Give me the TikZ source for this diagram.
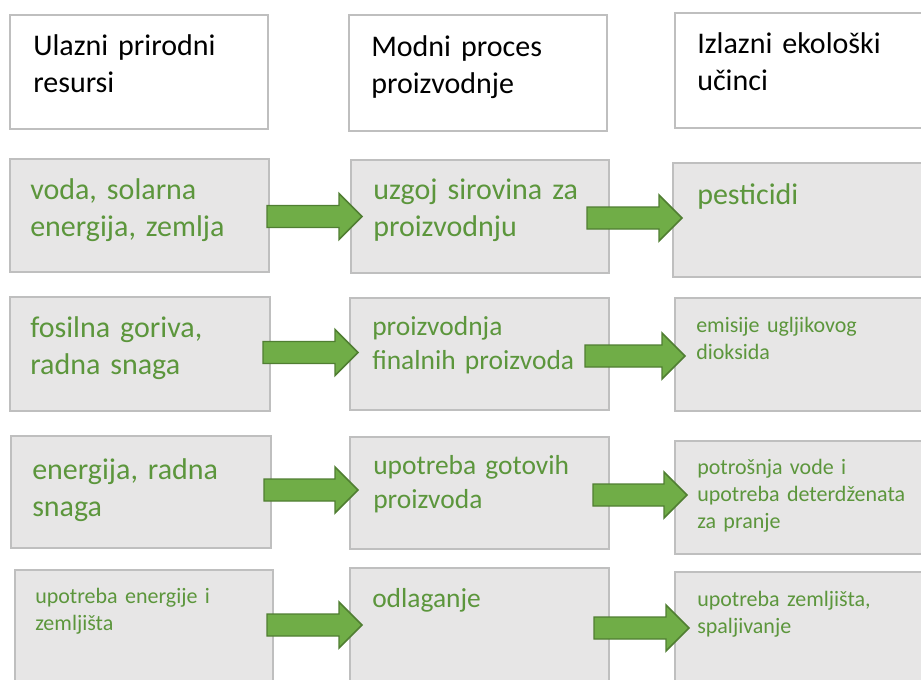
\documentclass[tikz,border=0pt]{standalone}
\usepackage{fontspec}
\setmainfont{Carlito}
\usetikzlibrary{fit}
\definecolor{boxgray}{RGB}{231,230,230}
\definecolor{boxline}{RGB}{191,191,191}
\definecolor{txtgreen}{RGB}{92,150,60}
\definecolor{arrfill}{RGB}{112,173,71}
\definecolor{arrline}{RGB}{80,126,50}
\tikzset{
  hdrbox/.style={draw=boxline, line width=1.5pt, fill=white, inner sep=0pt},
  greybox/.style={draw=boxline, line width=1.5pt, fill=boxgray, inner sep=0pt},
  txtbase/.style={anchor=base west, inner sep=0pt, text width=200pt, align=left},
  hdrtxt/.style={txtbase, text=black, font=\fontsize{22.5}{27.75}\selectfont},
  bigtxt/.style={txtbase, text=txtgreen, font=\fontsize{22.5}{27.75}\selectfont},
  midtxt/.style={txtbase, text=txtgreen, font=\fontsize{20.6}{25.5}\selectfont},
  smalltxt/.style={txtbase, text=txtgreen, font=\fontsize{16.5}{20.25}\selectfont},
  blockarrow/.style={fill=arrfill, draw=arrline, line width=1.1pt, line join=miter}
}
\newcommand\drawblockarrow[2]{% #1 = start coordinate name, #2 = length (px)
  \draw[blockarrow] (#1) ++(0,-11) -- ++({#2-23},0) -- ++(0,-12) -- ++(23,23)
    -- ++(-23,23) -- ++(0,-12) -- ++({-(#2-23)},0) -- cycle;}
\begin{document}
\begin{tikzpicture}[x=0.75pt,y=-0.75pt]
\useasboundingbox (0,0) rectangle (921,679);
\clip (0,0) rectangle (921,679);
% header boxes
\node[hdrbox, fit={(10,15) (268,129)}] (HA) {};
\node[hdrbox, fit={(349,15) (607,131)}] (HB) {};
\node[hdrbox, fit={(675,13) (930,128)}] (HC) {};
% grey boxes
\node[greybox, fit={(10,159) (269,272)}] (A1) {};
\node[greybox, fit={(351,160) (609,273)}] (B1) {};
\node[greybox, fit={(673,163) (930,277)}] (C1) {};
\node[greybox, fit={(10,297) (270,411)}] (A2) {};
\node[greybox, fit={(350,298) (609,410)}] (B2) {};
\node[greybox, fit={(675,298) (930,411)}] (C2) {};
\node[greybox, fit={(11,436) (271,548)}] (A3) {};
\node[greybox, fit={(350,437) (609,549)}] (B3) {};
\node[greybox, fit={(675,441) (930,554)}] (C3) {};
\node[greybox, fit={(15,570) (273,690)}] (A4) {};
\node[greybox, fit={(350,568) (609,690)}] (B4) {};
\node[greybox, fit={(675,572) (930,690)}] (C4) {};
% header texts
\node[hdrtxt] (tHA) at (33,55) {Ulazni prirodni\\resursi};
\node[hdrtxt] (tHB) at (371,56) {Modni proces\\proizvodnje};
\node[hdrtxt] (tHC) at (697,53) {Izlazni ekološki\\učinci};
% row texts
\node[bigtxt] (tA1) at (30,199) {voda, solarna\\energija, zemlja};
\node[bigtxt] (tB1) at (373,199) {uzgoj sirovina za\\proizvodnju};
\node[bigtxt] (tC1) at (697,204) {pesticidi};
\node[bigtxt] (tA2) at (30,337) {fosilna goriva,\\radna snaga};
\node[midtxt] (tB2) at (372,335) {proizvodnja\\finalnih proizvoda};
\node[smalltxt] (tC2) at (696,332) {emisije ugljikovog\\dioksida};
\node[bigtxt] (tA3) at (32,479) {energija, radna\\snaga};
\node[midtxt] (tB3) at (373,474) {upotreba gotovih\\proizvoda};
\node[smalltxt] (tC3) at (697,474) {potrošnja vode i\\upotreba deterdženata\\za pranje};
\node[smalltxt] (tA4) at (35,603) {upotreba energije i\\zemljišta};
\node[midtxt] (tB4) at (372,607) {odlaganje};
\node[smalltxt] (tC4) at (697,606) {upotreba zemljišta,\\spaljivanje};
% arrow start points
\coordinate (r1a) at (267,216.5);
\coordinate (r1b) at (587,218);
\coordinate (r2a) at (263,352.5);
\coordinate (r2b) at (585,356);
\coordinate (r3a) at (264,490);
\coordinate (r3b) at (593,495);
\coordinate (r4a) at (267,625);
\coordinate (r4b) at (594,628);
\drawblockarrow{r1a}{95}
\drawblockarrow{r1b}{95}
\drawblockarrow{r2a}{95}
\drawblockarrow{r2b}{100}
\drawblockarrow{r3a}{94}
\drawblockarrow{r3b}{94}
\drawblockarrow{r4a}{95}
\drawblockarrow{r4b}{95}
\end{tikzpicture}
\end{document}
